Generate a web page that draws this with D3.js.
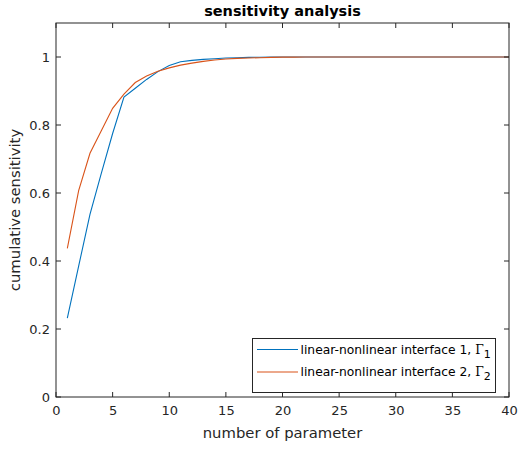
<!DOCTYPE html>
<html><head><meta charset="utf-8">
<script src="https://cdn.jsdelivr.net/npm/d3@7"></script>
<style>body{margin:0;background:#fff}svg{display:block}text{font-family:"DejaVu Sans",sans-serif}</style>
</head><body><svg id="c" width="519" height="451"></svg>
<script>
const xs = d3.range(1, 41);
const series1 = [0.232,0.385,0.537,0.658,0.775,0.882,0.908,0.934,0.957,0.975,0.986,0.990,0.993,0.995,0.997,0.998,0.999,0.9993,0.9996,0.9998,
  0.9999,1,1,1,1,1,1,1,1,1,1,1,1,1,1,1,1,1,1,1];
const series2 = [0.437,0.607,0.717,0.783,0.849,0.891,0.925,0.944,0.958,0.968,0.976,0.982,0.987,0.991,0.994,0.996,0.997,0.998,0.999,0.9995,
  0.9997,0.9998,0.9999,1,1,1,1,1,1,1,1,1,1,1,1,1,1,1,1,1];
const xTicks = [0,5,10,15,20,25,30,35,40];
const yTicks = [0,0.2,0.4,0.6,0.8,1];
const names = ["linear-nonlinear interface 1, ", "linear-nonlinear interface 2, "];
const subs = ["1","2"];
const colors = ["#0072BD","#D95319"];

const svg = d3.select("#c");
const L=56, R=509, T=23, B=397;
const x = d3.scaleLinear().domain([0,40]).range([L,R]);
const y = d3.scaleLinear().domain([0,1.1]).range([B,T]);
const axCol="#262626";

svg.append("rect").attr("x",L).attr("y",T).attr("width",R-L).attr("height",B-T).attr("fill","#fff");

const line = d3.line().x((d,i)=>x(xs[i])).y(d=>y(d));
[series1,series2].forEach((s,k)=>{
  svg.append("path").datum(s).attr("d",line).attr("fill","none").attr("stroke",colors[k]).attr("stroke-width",1.1);
});

const tl=5;
const gx = svg.append("g").attr("transform",`translate(0,${B})`)
  .call(d3.axisBottom(x).tickValues(xTicks).tickSize(0).tickPadding(9).tickFormat(d3.format("d")));
gx.select(".domain").remove();
gx.selectAll("text").attr("font-size",13).attr("fill",axCol).attr("font-family","DejaVu Sans");
const gy = svg.append("g").attr("transform",`translate(${L},0)`)
  .call(d3.axisLeft(y).tickValues(yTicks).tickSize(0).tickPadding(6).tickFormat(d=>d===0||d===1?d3.format("d")(d):d3.format(".1f")(d)));
gy.select(".domain").remove();
gy.selectAll("text").attr("font-size",13).attr("fill",axCol).attr("font-family","DejaVu Sans");

// inside ticks on all sides
const tg = svg.append("g").attr("stroke",axCol).attr("stroke-width",1);
xTicks.forEach(v=>{
  tg.append("line").attr("x1",x(v)).attr("x2",x(v)).attr("y1",B).attr("y2",B-tl);
  tg.append("line").attr("x1",x(v)).attr("x2",x(v)).attr("y1",T).attr("y2",T+tl);
});
yTicks.forEach(v=>{
  tg.append("line").attr("x1",L).attr("x2",L+tl).attr("y1",y(v)).attr("y2",y(v));
  tg.append("line").attr("x1",R).attr("x2",R-tl).attr("y1",y(v)).attr("y2",y(v));
});
svg.append("rect").attr("x",L).attr("y",T).attr("width",R-L).attr("height",B-T)
  .attr("fill","none").attr("stroke",axCol).attr("stroke-width",1);

svg.append("text").attr("x",(L+R)/2).attr("y",16).attr("text-anchor","middle")
  .attr("font-size",14.5).attr("font-weight","bold").attr("fill","#000").text("sensitivity analysis");
svg.append("text").attr("x",(L+R)/2).attr("y",438).attr("text-anchor","middle")
  .attr("font-size",14.8).attr("fill",axCol).text("number of parameter");
svg.append("text").attr("transform",`translate(20,${(T+B)/2}) rotate(-90)`).attr("text-anchor","middle")
  .attr("font-size",14.8).attr("fill",axCol).text("cumulative sensitivity");

// legend
const lg = svg.append("g");
lg.append("rect").attr("x",252.5).attr("y",338.5).attr("width",243).attr("height",54)
  .attr("fill","#fff").attr("stroke",axCol).attr("stroke-width",1);
[0,1].forEach(k=>{
  const yy = 349.5 + k*22.5;
  lg.append("line").attr("x1",257).attr("x2",298).attr("y1",yy).attr("y2",yy).attr("stroke",colors[k]).attr("stroke-width",1.1);
  const t = lg.append("text").attr("x",300.5).attr("y",yy+4).attr("font-size",12.3).attr("fill","#000");
  t.append("tspan").text(names[k]);
  t.append("tspan").attr("font-family","DejaVu Serif").text("Γ");
  t.append("tspan").attr("dy",4).attr("font-size",11).text(subs[k]);
});
</script></body></html>
